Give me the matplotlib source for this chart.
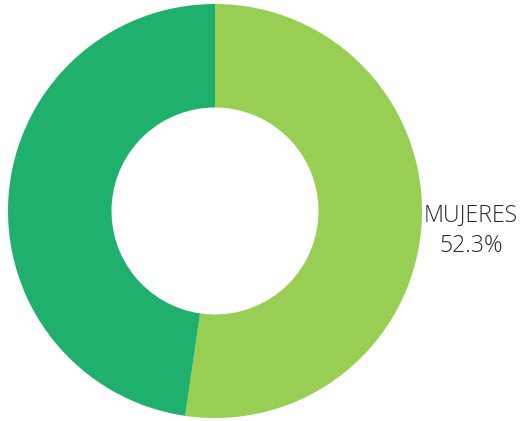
import matplotlib
matplotlib.use("Agg")
import matplotlib.pyplot as plt

categories = ["MUJERES", "HOMBRES"]
values = [52.3, 47.7]
colors = ["#97CE53", "#20B06E"]
shown_labels = {"MUJERES": "MUJERES\n52.3%"}

W, H = 522, 421
fig = plt.figure(figsize=(W / 100, H / 100), dpi=100)
ax = fig.add_axes([0, 0, 1, 1])
ax.pie(values, colors=colors, startangle=90, counterclock=False,
       center=(215, H - 211), radius=207,
       wedgeprops=dict(width=103.5, linewidth=0), frame=True)
ax.set_xlim(0, W)
ax.set_ylim(0, H)
ax.set_aspect("equal")
ax.axis("off")

ax.text(471, H - 231, shown_labels["MUJERES"], ha="center", va="center",
        fontsize=16.6, family=["Open Sans", "DejaVu Sans"], fontweight="light",
        color="#2a2a2a", linespacing=1.3)

fig.savefig("out.png", dpi=100)
